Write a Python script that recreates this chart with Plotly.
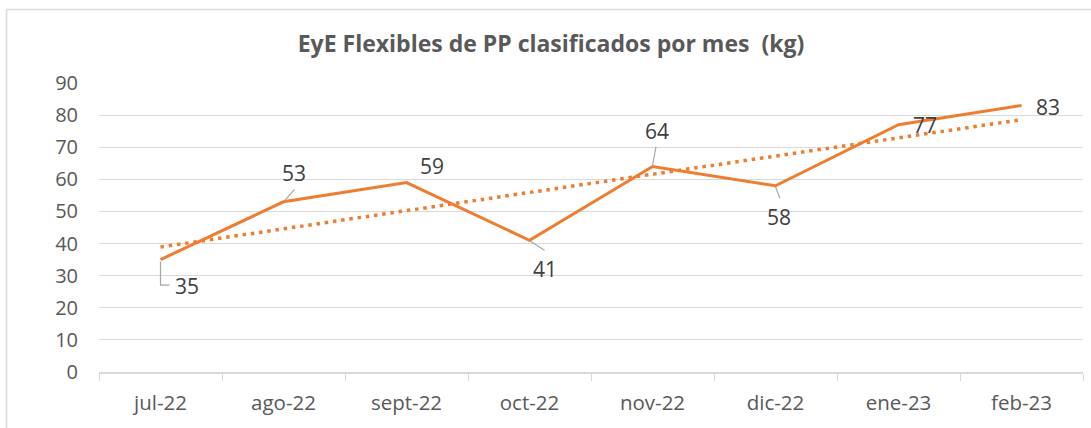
import numpy as np
import plotly.graph_objects as go

# ---- data ----
months = ["jul-22", "ago-22", "sept-22", "oct-22", "nov-22", "dic-22", "ene-23", "feb-23"]
values = [35, 53, 59, 41, 64, 58, 77, 83]
y_ticks = [0, 10, 20, 30, 40, 50, 60, 70, 80, 90]
title_text = "EyE Flexibles de PP clasificados por mes\u00a0\u00a0(kg)"

# ---- styling (label offsets in pixels relative to each point; y positive = down) ----
label_offsets = [(26.5, 26.3), (10.5, -28.7), (25.2, -16.6), (15.2, 28.6),
                 (4.2, -35.3), (3.8, 31.3), (26.8, 0.5), (26.2, 1.3)]
# leader line paths in pixels relative to the point (y positive = down), None = no leader
leaders = [[(0, 2), (0, 25.5), (9, 25.5)], [(1, -1), (11, -12.4)], None, [(1, 1), (15, 10)],
           [(0, -1), (3.5, -19.6)], [(0, 1), (4.5, 12.6)], None, None]

ORANGE = "#ED7D31"
GRID = "#D9D9D9"
TXT = "#595959"
LBL = "#404040"
FONT = "Open Sans"

W, H = 1091, 428
ML, MR, MT, MB = 99, 8, 83, 56

# linear trend from the data (Excel-style trendline)
xi = np.arange(1, len(values) + 1)
slope, intercept = np.polyfit(xi, values, 1)
trend = slope * xi + intercept

fig = go.Figure()
fig.add_trace(go.Scatter(x=months, y=values, mode="lines",
                         line=dict(color=ORANGE, width=3), hoverinfo="skip", showlegend=False))
fig.add_trace(go.Scatter(x=months, y=trend, mode="lines",
                         line=dict(color=ORANGE, width=3.5, dash="3.5px,4.8px"),
                         hoverinfo="skip", showlegend=False))

annotations = []
for m, v, (dx, dy) in zip(months, values, label_offsets):
    annotations.append(dict(x=m, y=v, xref="x", yref="y", text=str(v), showarrow=False,
                            xshift=dx, yshift=-dy, xanchor="center", yanchor="middle",
                            font=dict(family=FONT, size=21, color=LBL)))

shapes = []
for m, v, path in zip(months, values, leaders):
    if path is None:
        continue
    d = "M " + " L ".join(f"{px},{-py}" for px, py in path)
    shapes.append(dict(type="path", xref="x", yref="y", xsizemode="pixel", ysizemode="pixel",
                       xanchor=m, yanchor=v, path=d,
                       line=dict(color="#A6A6A6", width=1.2)))

# chart outline (partially cropped in the reference)
pw, ph = W - ML - MR, H - MT - MB
bx = (6.5 - ML) / pw
by = (H - MB - 9.5) / ph
shapes.append(dict(type="line", xref="paper", yref="paper", x0=bx, x1=bx, y0=by, y1=-1,
                   line=dict(color=GRID, width=1.5)))
shapes.append(dict(type="line", xref="paper", yref="paper", x0=bx, x1=2, y0=by, y1=by,
                   line=dict(color=GRID, width=1.5)))

fig.update_layout(
    width=W, height=H,
    margin=dict(l=ML, r=MR, t=MT, b=MB, autoexpand=False),
    paper_bgcolor="white", plot_bgcolor="white",
    title=dict(text=f"<b>{title_text}</b>", x=551 / W, xanchor="center",
               y=1 - 44 / H, yanchor="middle", yref="container",
               font=dict(family=FONT, size=23, color=TXT)),
    annotations=annotations, shapes=shapes,
    showlegend=False,
)
fig.update_xaxes(type="category", range=[-0.5, len(months) - 0.5],
                 showgrid=False, showline=True, linecolor=GRID, linewidth=1.5,
                 ticks="outside", tickson="boundaries", ticklen=7, tickcolor=GRID, tickwidth=1.2,
                 tickfont=dict(family=FONT, size=20.5, color=TXT), ticklabelstandoff=12,
                 zeroline=False)
fig.update_yaxes(range=[0, 90], tickvals=y_ticks, showgrid=True, gridcolor=GRID, gridwidth=1.2,
                 showline=False, zeroline=False, ticks="",
                 tickfont=dict(family=FONT, size=20, color=TXT), ticklabelstandoff=20)

fig.write_html("out.html", config={"displayModeBar": False},
               post_script="document.body.style.margin='0';document.body.style.overflow='hidden';")
